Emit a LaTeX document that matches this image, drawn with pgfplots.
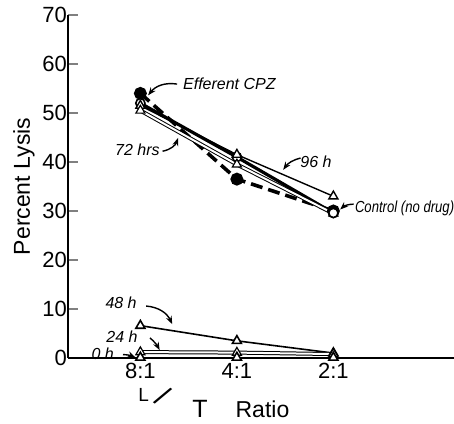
\documentclass[border=0pt]{standalone}
\usepackage{fontspec}
\setmainfont{Liberation Sans}
\usepackage{pgfplots}
\pgfplotsset{compat=1.18}
\usetikzlibrary{arrows.meta}

\begin{document}
\begin{tikzpicture}
\begin{axis}[
    name=ax,
    scale only axis,
    width=193pt, height=171.5pt,
    xmin=0.25, xmax=4.25,
    ymin=0, ymax=70,
    axis x line=bottom, axis y line=left,
    axis line style={-, line width=0.9pt},
    xtick={1,2,3},
    xticklabels={8:1,4:1,2:1},
    x tick style={draw=none},
    ytick={0,10,...,70},
    tick align=inside,
    major tick length=5pt,
    y tick style={line width=0.9pt},
    tick label style={font=\fontsize{11}{13}\selectfont},
    yticklabel style={xshift=3pt},
    xticklabel style={yshift=1pt},
    /pgf/number format/assume math mode=true,
    ylabel={Percent Lysis},
    ylabel style={font=\fontsize{11.5}{13}\selectfont, yshift=-3pt},
    clip=false,
]
% Efferent CPZ
\addplot[black, line width=1.8pt, dash pattern=on 6pt off 3pt, mark=*, mark options={solid}, mark size=2.3pt]
  coordinates {(1,54) (2,36.5) (3,30)};
% Control (no drug)
\addplot[black, line width=1.6pt, mark=*, mark options={solid, fill=white, draw=black, line width=0.8pt}, mark size=2.3pt]
  coordinates {(1,52) (2,41) (3,29.6)};
% 96 h
\addplot[black, line width=0.7pt, mark=triangle*, mark options={solid, fill=white, draw=black}, mark size=2.6pt]
  coordinates {(1,51.5) (2,41.5) (3,33)};
% 72 hrs
\addplot[black, line width=0.5pt, double=white, double distance=1pt, mark=triangle*, mark options={solid, fill=white, draw=black, line width=0.6pt}, mark size=2.6pt]
  coordinates {(1,50.5) (2,39.5) (3,29.5)};
% control marker on top at 2:1
\addplot[only marks, mark=*, mark options={fill=white, draw=black, line width=0.8pt}, mark size=2.3pt, forget plot]
  coordinates {(3,29.6)};
% 48 h
\addplot[black, line width=0.8pt, mark=triangle*, mark options={solid, fill=white, draw=black}, mark size=2.6pt]
  coordinates {(1,6.6) (2,3.5) (3,1.0)};
% 24 h
\addplot[black, line width=0.5pt, double=white, double distance=1pt, mark=triangle*, mark options={solid, fill=white, draw=black, line width=0.6pt}, mark size=2.6pt]
  coordinates {(1,1.2) (2,1.1) (3,0.8)};
% 0 h
\addplot[black, line width=0.8pt, mark=triangle*, mark options={solid, fill=white, draw=black}, mark size=2.6pt]
  coordinates {(1,0.1) (2,0.1) (3,0.1)};

\begin{scope}[font=\fontsize{8}{9}\itshape, ann/.style={-{Stealth[length=4pt,width=3pt]}, line width=0.7pt}]
\node[anchor=west] at (axis cs:1.37,55.9) {Efferent CPZ};
\draw[ann] (axis cs:1.38,55.9) to[bend right=30] (axis cs:1.08,53.6);
\node at (axis cs:0.97,42.4) {72 hrs};
\draw[ann] (axis cs:1.23,42.2) to[bend right=30] (axis cs:1.39,44.9);
\node at (axis cs:2.82,40.0) {96 h};
\draw[ann] (axis cs:2.66,40.8) to[bend right=20] (axis cs:2.48,38.4);
\node[anchor=west, inner sep=0pt] at (axis cs:3.22,30.6) {\scalebox{0.82}[1]{Control (no drug)}};
\draw[ann] (axis cs:3.21,31.4) to[bend right=20] (axis cs:3.07,30.3);
\node at (axis cs:0.80,11.2) {48 h};
\draw[ann] (axis cs:1.06,10.6) to[bend left=30] (axis cs:1.33,6.9);
\node at (axis cs:0.81,4.3) {24 h};
\draw[ann] (axis cs:1.10,4.1) to[bend left=10] (axis cs:1.20,1.6);
\node at (axis cs:0.61,0.8) {0 h};
\draw[ann] (axis cs:0.82,0.7) to[bend left=10] (axis cs:0.95,0.1);
\end{scope}
\end{axis}
% x label: L/T Ratio
\node[font=\fontsize{11.5}{13}\selectfont, anchor=base west, inner sep=0pt]
  at ([shift={(35pt,-30pt)}]ax.south west)
  {\raisebox{8pt}{\fontsize{9.5}{10}\selectfont L}\kern2pt\raisebox{5.5pt}{\scalebox{1.3}{\rotatebox[origin=c]{-35}{/}}}\kern10pt{\fontsize{12.5}{13}\selectfont T}\kern14pt Ratio};
\pgfresetboundingbox
\path ([shift={(-34pt,-33pt)}]ax.south west) rectangle ([shift={(0pt,7.5pt)}]ax.north east);
\end{tikzpicture}
\end{document}
